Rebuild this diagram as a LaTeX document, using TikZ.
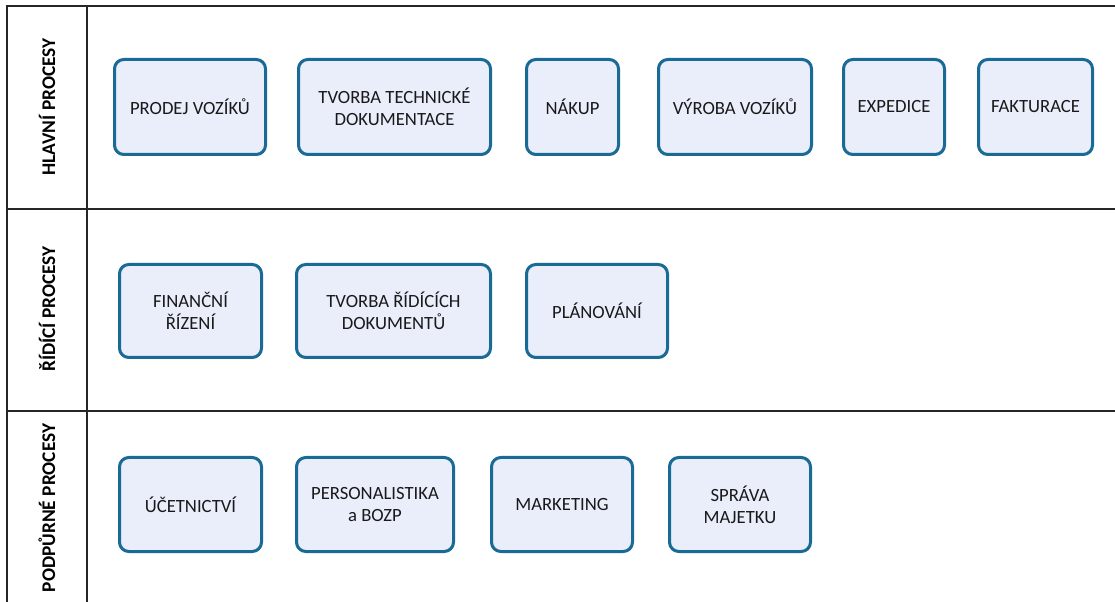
\documentclass[tikz,border=0pt]{standalone}
\usepackage{fontspec}
\setmainfont{Carlito}
\definecolor{procline}{RGB}{26,106,150}
\definecolor{procfill}{RGB}{234,238,251}
\tikzset{
    proc/.style={draw=procline, fill=procfill, line width=2.25pt, rounded corners=7pt,
        align=center, text=black!90, font=\fontsize{14}{16.5}\selectfont,
        minimum height=#1*0.75pt},
    lane/.style={rotate=90, font=\fontsize{14.5}{17}\selectfont\bfseries},
    frame/.style={line width=1.5pt, draw=black!85},
}
\begin{document}
\begin{tikzpicture}[x=0.75pt, y=-0.75pt]
    \useasboundingbox (0,0) rectangle (1115,602);

    % lanes
    \draw[frame] (1115,6) -- (7,6) -- (7,602);
    \draw[frame] (87,6) -- (87,602);
    \draw[frame] (7,209) -- (1115,209);
    \draw[frame] (7,411) -- (1115,411);

    \node[lane] (hlavni)   at (47,107) {HLAVNÍ PROCESY};
    \node[lane] (ridici)   at (47,309) {ŘÍDÍCÍ PROCESY};
    \node[lane] (podpurne) at (47,508) {PODPŮRNÉ PROCESY};

    % hlavni procesy
    \foreach \n/\x/\w/\t in {prodej/190/151/{PRODEJ VOZÍKŮ},
                             tvorbatech/394.5/192/{TVORBA TECHNICKÉ\\DOKUMENTACE},
                             nakup/572.5/92/{NÁKUP},
                             vyroba/735/153/{VÝROBA VOZÍKŮ},
                             expedice/894/101/{EXPEDICE},
                             fakturace/1035.5/114/{FAKTURACE}}
    {
        \node[proc=95, minimum width=\w*0.75pt] (\n) at (\x,107) {\t};
    }

    % ridici procesy
    \foreach \n/\x/\w/\t in {financni/190.5/142/{FINANČNÍ\\ŘÍZENÍ},
                             tvorbarid/393.5/194/{TVORBA ŘÍDÍCÍCH\\DOKUMENTŮ},
                             planovani/597/141/{PLÁNOVÁNÍ}}
    {
        \node[proc=93, minimum width=\w*0.75pt] (\n) at (\x,311) {\t};
    }

    % podpurne procesy
    \foreach \n/\x/\w/\t in {ucetnictvi/190.5/142/{ÚČETNICTVÍ},
                             personal/375/157/{PERSONALISTIKA\\a BOZP},
                             marketing/562/141/{MARKETING},
                             sprava/740/141/{SPRÁVA\\MAJETKU}}
    {
        \node[proc=94, minimum width=\w*0.75pt] (\n) at (\x,504.5) {\t};
    }
\end{tikzpicture}
\end{document}
